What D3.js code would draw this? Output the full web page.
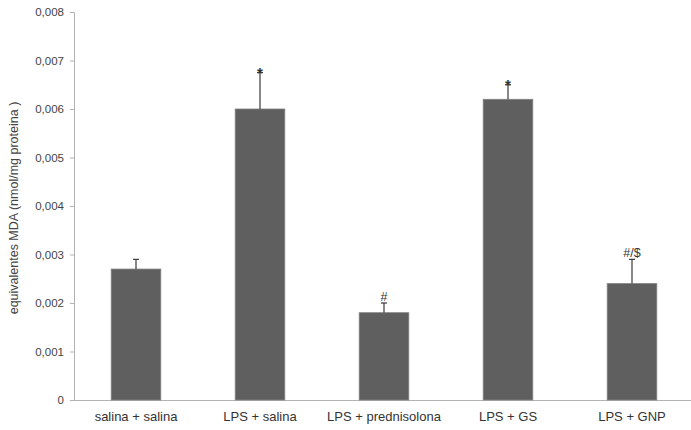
<!DOCTYPE html>
<html>
<head>
<meta charset="utf-8">
<script src="https://cdn.jsdelivr.net/npm/d3@7"></script>
<style>
  html, body { margin: 0; padding: 0; background: #fff; }
  svg { display: block; font-family: "Liberation Sans", Arial, sans-serif; }
</style>
</head>
<body>
<svg id="chart" width="691" height="430"></svg>
<script>
// MDA equivalents per group (mean and upper error)
const categories = ["salina + salina", "LPS + salina", "LPS + prednisolona", "LPS + GS", "LPS + GNP"];
const means = [0.0027, 0.0060, 0.0018, 0.0062, 0.0024];
const errors = [0.0002, 0.00075, 0.0002, 0.0003, 0.0005];
const marks = ["", "*", "#", "*", "#/$"];
const yTickValues = [0, 0.001, 0.002, 0.003, 0.004, 0.005, 0.006, 0.007, 0.008];
const yTickLabels = ["0", "0,001", "0,002", "0,003", "0,004", "0,005", "0,006", "0,007", "0,008"];
const yTitle = "equivalentes MDA (nmol/mg proteina )";

const svg = d3.select("#chart");
const W = 691;
const plotLeft = 74, plotRight = 694, plotTop = 12, plotBottom = 400;

const x = d3.scaleBand().domain(categories).range([plotLeft, plotRight]).paddingInner(0.6).paddingOuter(0.3);
const y = d3.scaleLinear().domain([0, 0.008]).range([plotBottom, plotTop]);

// y axis
const yAxis = svg.append("g")
  .attr("transform", `translate(${plotLeft},0)`)
  .call(d3.axisLeft(y).tickValues(yTickValues).tickSize(4).tickPadding(6)
    .tickFormat((d, i) => yTickLabels[i]));
yAxis.select(".domain").attr("stroke", "#b3b3b3");
yAxis.selectAll(".tick line").attr("stroke", "#b3b3b3");
yAxis.selectAll(".tick text").attr("fill", "#444").style("font-size", "11.5px")
  .style("font-family", "'Liberation Sans', Arial, sans-serif");

// x axis
const xAxis = svg.append("g")
  .attr("transform", `translate(0,${plotBottom})`)
  .call(d3.axisBottom(x).tickSize(0).tickPadding(12));
xAxis.select(".domain").attr("d", `M${plotLeft - 3},0.5H${W}`).attr("stroke", "#b3b3b3");
xAxis.selectAll(".tick text").attr("fill", "#333").style("font-size", "13px")
  .style("font-family", "'Liberation Sans', Arial, sans-serif");

// axis title
svg.append("text")
  .attr("transform", `translate(18,${(plotTop + plotBottom) / 2 + 2}) rotate(-90)`)
  .attr("text-anchor", "middle")
  .attr("fill", "#444")
  .style("font-size", "12.5px")
  .text(yTitle);

const data = categories.map((c, i) => ({ c, m: means[i], e: errors[i], k: marks[i] }));

// bars
svg.append("g").selectAll("rect").data(data).join("rect")
  .attr("x", d => x(d.c))
  .attr("y", d => y(d.m))
  .attr("width", x.bandwidth())
  .attr("height", d => y(0) - y(d.m))
  .attr("fill", "#5f5f5f")
  .attr("stroke", "#808080")
  .attr("stroke-width", 0.8);

// error bars (upper)
const eb = svg.append("g").attr("stroke", "#3a3a3a").attr("stroke-width", 1.2);
eb.selectAll("line.v").data(data).join("line").attr("class", "v")
  .attr("x1", d => x(d.c) + x.bandwidth() / 2)
  .attr("x2", d => x(d.c) + x.bandwidth() / 2)
  .attr("y1", d => y(d.m))
  .attr("y2", d => y(d.m + d.e));
eb.selectAll("line.h").data(data).join("line").attr("class", "h")
  .attr("x1", d => x(d.c) + x.bandwidth() / 2 - 3)
  .attr("x2", d => x(d.c) + x.bandwidth() / 2 + 3)
  .attr("y1", d => y(d.m + d.e))
  .attr("y2", d => y(d.m + d.e));

// significance marks
svg.append("g").selectAll("text").data(data.filter(d => d.k)).join("text")
  .attr("x", d => x(d.c) + x.bandwidth() / 2)
  .attr("y", d => y(d.m + d.e) + (d.k === "*" ? 5 : -2))
  .attr("text-anchor", "middle")
  .attr("fill", "#333")
  .style("font-size", d => d.k === "*" ? "15px" : "12.5px")
  .style("font-weight", d => d.k === "*" ? "bold" : "normal")
  .text(d => d.k);
</script>
</body>
</html>
